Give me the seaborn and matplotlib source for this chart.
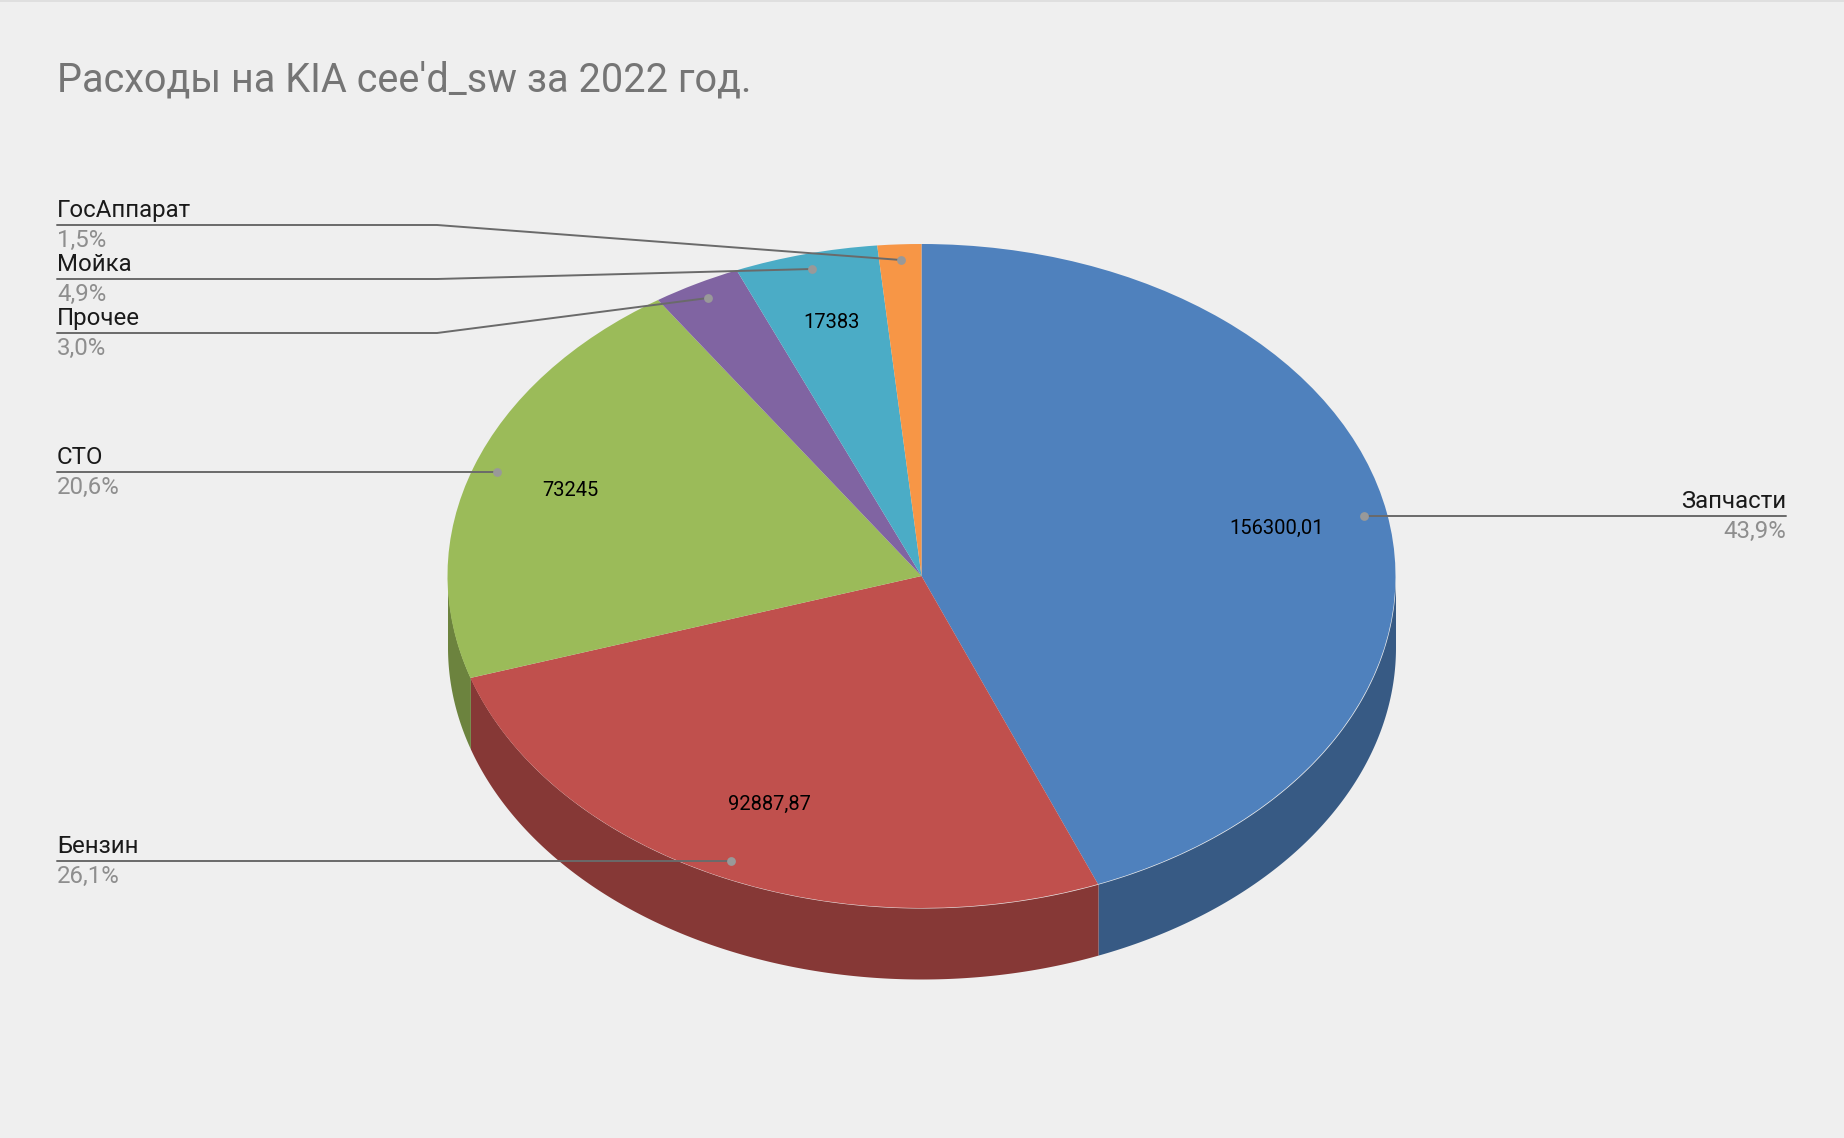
import matplotlib.pyplot as plt
import numpy as np
import seaborn as sns

categories = ['Запчасти', 'Бензин', 'СТО', 'Прочее', 'Мойка', 'ГосАппарат']
values = [156300.01, 92887.87, 73245, 10700, 17383, 5300]
percent_labels = ['43,9%', '26,1%', '20,6%', '3,0%', '4,9%', '1,5%']
value_labels = ['156300,01', '92887,87', '73245', '', '17383', '']
colors = ['#4f81bd', '#c0504d', '#9bbb59', '#8064a2', '#4bacc6', '#f79646']

WIDTH, HEIGHT = 1844, 1138
CX, CY, RX, RY = 921.5, 576, 474, 332
DEPTH = 71 / RY
BG = '#efefef'

# label layout in picture pixels: text edge x, shelf y, shelf end x, dot x, dot y
leaders = {
    'Запчасти': (1786, 516, 1400, 1364, 516),
    'Бензин': (57, 861, 437, 731, 861),
    'СТО': (57, 472, 437, 497, 472),
    'Прочее': (57, 333, 437, 708, 298),
    'Мойка': (57, 279, 437, 812, 269),
    'ГосАппарат': (57, 225, 437, 901, 260),
}
value_pos = [(1277, 528), (769, 804), (570, 491), None, (831, 323), None]


def px(x, y):
    return (x - CX) / RX, (CY - y) / RY


sns.set_theme(style='white')
plt.rcParams['font.family'] = ['Roboto', 'DejaVu Sans']

fig = plt.figure(figsize=(WIDTH / 100, HEIGHT / 100), dpi=100, facecolor=BG)
ax = fig.add_axes([0, 0, 1, 1])
palette = sns.color_palette(colors)

# side wall, only the part of each slice facing the viewer
shares = np.array(values) / sum(values) * 360
ends = np.cumsum(shares)
starts = ends - shares
for start, end, col in zip(starts, ends, palette):
    lo, hi = max(start, 90), min(end, 270)
    if lo >= hi:
        continue
    theta = np.radians(np.linspace(lo, hi, 200))
    dark = tuple(np.array(col) * 0.7)
    ax.fill_between(np.sin(theta), np.cos(theta), np.cos(theta) - DEPTH,
                    color=dark, linewidth=0, zorder=2)

ax.pie(values, colors=palette, startangle=90, counterclock=False, radius=1,
       wedgeprops={'zorder': 3, 'linewidth': 0})
ax.set_aspect('auto')
ax.set_xlim(px(0, 0)[0], px(WIDTH, 0)[0])
ax.set_ylim(px(0, HEIGHT)[1], px(0, 0)[1])
ax.axis('off')

# strip along the top edge
ax.axhspan(px(0, 2)[1], px(0, 0)[1], color='#dfdfdf', linewidth=0, zorder=1)

ax.text(*px(57, 91), "Расходы на KIA cee'd_sw за 2022 год.", fontsize=28.5,
        color='#757575', ha='left', va='baseline', zorder=6)

for name, pct in zip(categories, percent_labels):
    tx, ty, sx, dx, dy = leaders[name]
    pts = np.array([px(tx, ty), px(sx, ty), px(dx, dy)])
    ax.plot(pts[:, 0], pts[:, 1], color='#6a6a6a', lw=1.4, zorder=4)
    ax.scatter(*px(dx, dy), s=40, color='#999999', linewidth=0, zorder=5)
    ha = 'right' if tx > CX else 'left'
    ax.text(*px(tx, ty - 8), name, fontsize=17.3, color='#1a1a1a', ha=ha,
            va='baseline', zorder=6)
    ax.text(*px(tx, ty + 22), pct, fontsize=17.3, color='#8e8e8e', ha=ha,
            va='baseline', zorder=6)

for text, pos in zip(value_labels, value_pos):
    if pos is None:
        continue
    ax.text(*px(*pos), text, fontsize=14.5, color='black', ha='center',
            va='center', zorder=6)

fig.savefig('out.png', dpi=100, facecolor=BG)
